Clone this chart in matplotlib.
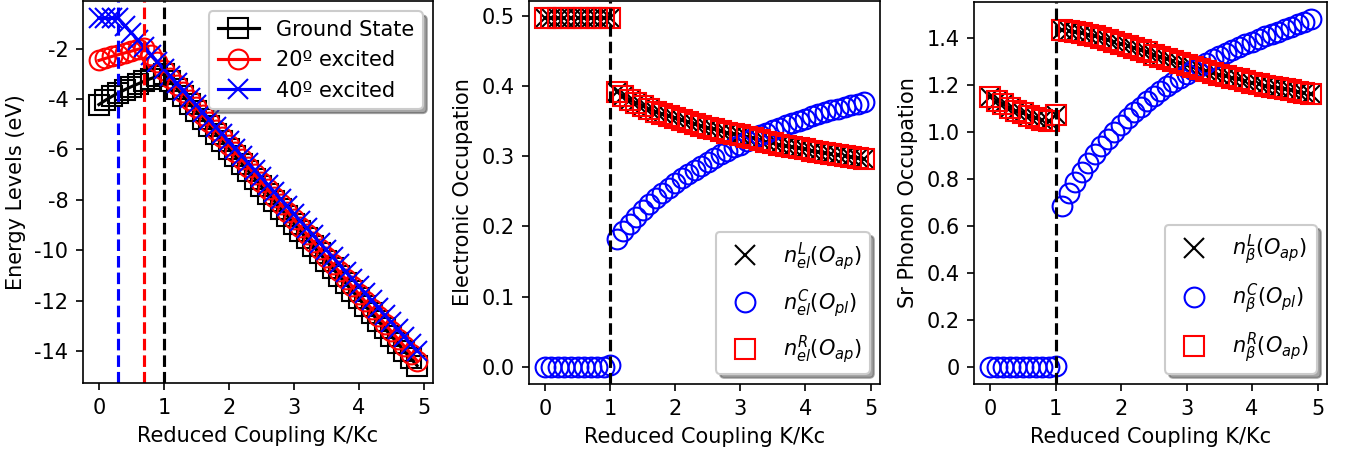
"""Energy levels and occupations vs reduced coupling."""

import matplotlib

matplotlib.use("Agg")
import matplotlib.pyplot as plt

plt.rcParams["axes.unicode_minus"] = False

K = [0.0, 0.1, 0.2, 0.3, 0.4, 0.5, 0.6, 0.7, 0.8, 0.9,
     1.0, 1.1, 1.2, 1.3, 1.4, 1.5, 1.6, 1.7, 1.8, 1.9,
     2.0, 2.1, 2.2, 2.3, 2.4, 2.5, 2.6, 2.7, 2.8, 2.9,
     3.0, 3.1, 3.2, 3.3, 3.4, 3.5, 3.6, 3.7, 3.8, 3.9,
     4.0, 4.1, 4.2, 4.3, 4.4, 4.5, 4.6, 4.7, 4.8, 4.9]

# energy levels (eV)
E_ground = [-4.22, -4.05, -3.90, -3.76, -3.63, -3.51, -3.40, -3.29, -3.19, -3.10,
            -3.00, -3.30, -3.59, -3.89, -4.19, -4.49, -4.78, -5.08, -5.38, -5.67,
            -5.97, -6.27, -6.56, -6.86, -7.16, -7.46, -7.75, -8.05, -8.35, -8.64,
            -8.94, -9.24, -9.53, -9.83, -10.13, -10.43, -10.72, -11.02, -11.32, -11.61,
            -11.91, -12.21, -12.50, -12.80, -13.10, -13.40, -13.69, -13.99, -14.29, -14.58]
E_20 = [-2.47, -2.39, -2.31, -2.24, -2.17, -2.10, -2.03, -1.96, -2.26, -2.55,
        -2.85, -3.15, -3.44, -3.74, -4.03, -4.33, -4.63, -4.92, -5.22, -5.51,
        -5.81, -6.11, -6.40, -6.70, -6.99, -7.29, -7.59, -7.88, -8.18, -8.47,
        -8.77, -9.07, -9.36, -9.66, -9.95, -10.25, -10.55, -10.84, -11.14, -11.43,
        -11.73, -12.03, -12.32, -12.62, -12.91, -13.21, -13.51, -13.80, -14.10, -14.39]
E_40 = [-0.80, -0.80, -0.80, -0.80, -1.09, -1.37, -1.66, -1.95, -2.24, -2.52,
        -2.81, -3.10, -3.38, -3.67, -3.96, -4.24, -4.53, -4.82, -5.11, -5.39,
        -5.68, -5.97, -6.25, -6.54, -6.83, -7.11, -7.40, -7.69, -7.98, -8.26,
        -8.55, -8.84, -9.12, -9.41, -9.70, -9.98, -10.27, -10.56, -10.85, -11.13,
        -11.42, -11.71, -11.99, -12.28, -12.57, -12.85, -13.14, -13.43, -13.72, -14.00]
transitions = [0.3, 0.7, 1.0]

# electronic occupations
el_L = [0.497, 0.497, 0.497, 0.497, 0.497, 0.497, 0.497, 0.497, 0.497, 0.497,
        0.497, 0.392, 0.386, 0.381, 0.376, 0.372, 0.368, 0.364, 0.361, 0.358,
        0.355, 0.352, 0.349, 0.346, 0.343, 0.341, 0.339, 0.336, 0.334, 0.332,
        0.330, 0.328, 0.326, 0.323, 0.321, 0.319, 0.317, 0.315, 0.314, 0.312,
        0.310, 0.308, 0.307, 0.305, 0.304, 0.302, 0.301, 0.299, 0.298, 0.297]
el_C = [0.0, 0.0, 0.0, 0.0, 0.0, 0.0, 0.0, 0.0, 0.0, 0.0,
        0.002, 0.182, 0.194, 0.204, 0.214, 0.224, 0.232, 0.240, 0.248, 0.255,
        0.262, 0.269, 0.275, 0.281, 0.287, 0.292, 0.298, 0.303, 0.308, 0.313,
        0.317, 0.322, 0.326, 0.330, 0.334, 0.338, 0.341, 0.345, 0.348, 0.351,
        0.354, 0.357, 0.360, 0.363, 0.366, 0.368, 0.371, 0.373, 0.375, 0.377]
el_R = [0.497, 0.497, 0.497, 0.497, 0.497, 0.497, 0.497, 0.497, 0.497, 0.497,
        0.497, 0.392, 0.386, 0.381, 0.376, 0.372, 0.368, 0.364, 0.361, 0.358,
        0.355, 0.352, 0.349, 0.346, 0.343, 0.341, 0.339, 0.336, 0.334, 0.332,
        0.330, 0.328, 0.326, 0.323, 0.321, 0.319, 0.317, 0.315, 0.314, 0.312,
        0.310, 0.308, 0.307, 0.305, 0.304, 0.302, 0.301, 0.299, 0.298, 0.297]

# Sr phonon occupations
ph_L = [1.148, 1.133, 1.118, 1.104, 1.091, 1.079, 1.068, 1.059, 1.051, 1.046,
        1.072, 1.436, 1.432, 1.427, 1.421, 1.414, 1.407, 1.399, 1.391, 1.383,
        1.375, 1.366, 1.357, 1.348, 1.339, 1.330, 1.321, 1.312, 1.303, 1.294,
        1.285, 1.277, 1.269, 1.261, 1.253, 1.245, 1.238, 1.231, 1.224, 1.217,
        1.210, 1.204, 1.198, 1.192, 1.187, 1.182, 1.177, 1.172, 1.167, 1.162]
ph_C = [0.0, 0.0, 0.0, 0.0, 0.0, 0.0, 0.0, 0.0, 0.0, 0.0,
        0.003, 0.684, 0.738, 0.785, 0.828, 0.868, 0.905, 0.940, 0.972, 1.002,
        1.031, 1.058, 1.084, 1.108, 1.131, 1.153, 1.174, 1.194, 1.213, 1.231,
        1.248, 1.265, 1.281, 1.296, 1.310, 1.324, 1.337, 1.350, 1.362, 1.374,
        1.385, 1.396, 1.407, 1.417, 1.428, 1.438, 1.449, 1.460, 1.470, 1.480]
ph_R = [1.148, 1.133, 1.118, 1.104, 1.091, 1.079, 1.068, 1.059, 1.051, 1.046,
        1.072, 1.436, 1.432, 1.427, 1.421, 1.414, 1.407, 1.399, 1.391, 1.383,
        1.375, 1.366, 1.357, 1.348, 1.339, 1.330, 1.321, 1.312, 1.303, 1.294,
        1.285, 1.277, 1.269, 1.261, 1.253, 1.245, 1.238, 1.231, 1.224, 1.217,
        1.210, 1.204, 1.198, 1.192, 1.187, 1.182, 1.177, 1.172, 1.167, 1.162]

K_ticks = [0, 1, 2, 3, 4, 5]
E_ticks = [-14, -12, -10, -8, -6, -4, -2]
el_ticks = [0.0, 0.1, 0.2, 0.3, 0.4, 0.5]
ph_ticks = [0, 0.2, 0.4, 0.6, 0.8, 1.0, 1.2, 1.4]
ph_ticklabels = ["0", "0.2", "0.4", "0.6", "0.8", "1.0", "1.2", "1.4"]

MS = 9.5

fig = plt.figure(figsize=(1351 / 150, 451 / 150), dpi=150)
ax1 = fig.add_axes([83 / 1351, 68 / 451, 350 / 1351, 382 / 451])
ax2 = fig.add_axes([529 / 1351, 67 / 451, 351 / 1351, 383 / 451])
ax3 = fig.add_axes([974 / 1351, 67 / 451, 353 / 1351, 382 / 451])

# panel 1: energy levels
ax1.plot(K, E_ground, "k-s", mfc="none", ms=MS, label="Ground State")
ax1.plot(K, E_20, "r-o", mfc="none", ms=MS, label="20º excited")
ax1.plot(K, E_40, "b-x", ms=MS, label="40º excited")
for xv, c in zip(transitions, ["b", "r", "k"]):
    ax1.axvline(xv, color=c, ls="--")
ax1.set_yticks(E_ticks)
ax1.set_ylabel("Energy Levels (eV)")
ax1.legend(loc="upper right", shadow=True)

# panel 2: electronic occupation
ax2.plot(K, el_L, "kx", ms=MS, label=r"$n^{L}_{el}(O_{ap})$")
ax2.plot(K, el_C, "bo", mfc="none", ms=MS, label=r"$n^{C}_{el}(O_{pl})$")
ax2.plot(K, el_R, "rs", mfc="none", ms=MS, label=r"$n^{R}_{el}(O_{ap})$")
ax2.axvline(1.0, color="k", ls="--")
ax2.set_yticks(el_ticks)
ax2.set_ylabel("Electronic Occupation")
ax2.legend(loc="lower right", shadow=True, labelspacing=0.7)

# panel 3: Sr phonon occupation
ax3.plot(K, ph_L, "kx", ms=MS, label=r"$n^{L}_{\beta}(O_{ap})$")
ax3.plot(K, ph_C, "bo", mfc="none", ms=MS, label=r"$n^{C}_{\beta}(O_{pl})$")
ax3.plot(K, ph_R, "rs", mfc="none", ms=MS, label=r"$n^{R}_{\beta}(O_{ap})$")
ax3.axvline(1.0, color="k", ls="--")
ax3.set_yticks(ph_ticks, ph_ticklabels)
ax3.set_ylabel("Sr Phonon Occupation")
ax3.legend(loc="lower right", shadow=True, labelspacing=0.7)

for ax in (ax1, ax2, ax3):
    ax.set_xticks(K_ticks)
    ax.set_xlabel("Reduced Coupling K/Kc")

fig.savefig("out.png", dpi=150)
